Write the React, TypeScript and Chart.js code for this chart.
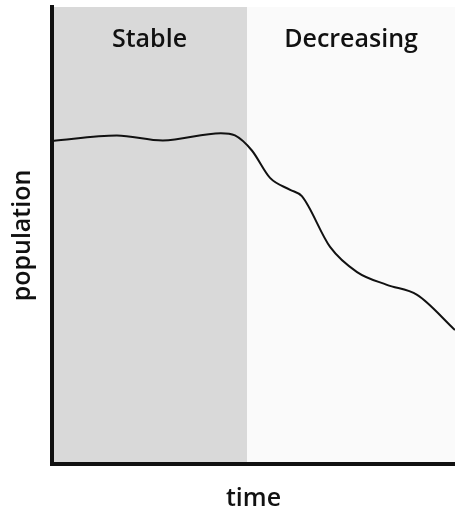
import React, { useEffect, useRef } from "react";
import { Chart, registerables } from "chart.js";

Chart.register(...registerables);

// time (0–100) and population (0–100)
const timePoints = [0, 16.1, 27.5, 41.9, 45.4, 49.6, 54.1, 59.1, 62.0, 69.0, 75.7, 83.1, 90.6, 100];
const populationValues = [70.7, 71.9, 70.8, 72.4, 71.9, 68.6, 62.6, 60.0, 58.6, 47.5, 42.0, 39.2, 37.0, 29.3];

// phases along the time axis
const phaseLabels = ["Stable", "Decreasing"];
const phaseStarts = [0, 48.4];
const phaseEnds = [48.4, 100];
const phaseColors = ["#d9d9d9", "#fafafa"];

const FONT = "'Open Sans', 'DejaVu Sans', sans-serif";

const phasePlugin = {
  id: "phases",
  beforeDraw(chart: any) {
    const { ctx, chartArea, scales } = chart;
    const x = scales.x;
    ctx.save();
    for (let i = 0; i < phaseLabels.length; i++) {
      const x0 = x.getPixelForValue(phaseStarts[i]);
      const x1 = x.getPixelForValue(phaseEnds[i]);
      ctx.fillStyle = phaseColors[i];
      ctx.fillRect(x0, chartArea.top, x1 - x0, chartArea.bottom - chartArea.top);
    }
    ctx.fillStyle = "#111";
    ctx.font = `600 25px ${FONT}`;
    ctx.textAlign = "center";
    ctx.textBaseline = "alphabetic";
    for (let i = 0; i < phaseLabels.length; i++) {
      const x0 = x.getPixelForValue(phaseStarts[i]);
      const x1 = x.getPixelForValue(phaseEnds[i]);
      ctx.fillText(phaseLabels[i], (x0 + x1) / 2, chartArea.top + 40);
    }
    ctx.restore();
  },
};

export default function App() {
  const ref = useRef<HTMLCanvasElement | null>(null);
  useEffect(() => {
    if (!ref.current) return;
    const chart = new Chart(ref.current, {
      type: "line",
      data: {
        datasets: [
          {
            data: timePoints.map((t, i) => ({ x: t, y: populationValues[i] })),
            borderColor: "#111",
            borderWidth: 2,
            pointRadius: 0,
            cubicInterpolationMode: "monotone",
            fill: false,
          },
        ],
      },
      options: {
        animation: false,
        responsive: false,
        layout: { padding: { top: 7, right: 0, left: 0, bottom: 0 } },
        plugins: { legend: { display: false }, tooltip: { enabled: false } },
        scales: {
          x: {
            type: "linear",
            min: 0,
            max: 100,
            grid: { display: false, drawTicks: false, tickLength: 0 },
            border: { display: true, color: "#111", width: 4 },
            ticks: { display: false },
            title: {
              display: true,
              text: "time",
              color: "#111",
              font: { family: FONT, size: 25, weight: "600", lineHeight: 1.2 },
              padding: { top: 20, bottom: 0 },
            },
          },
          y: {
            type: "linear",
            min: 0,
            max: 100,
            grid: { display: false, drawTicks: false, tickLength: 0 },
            border: { display: true, color: "#111", width: 4 },
            ticks: { display: false },
            title: {
              display: true,
              text: "population",
              color: "#111",
              font: { family: FONT, size: 25, weight: "600", lineHeight: 1.2 },
              padding: { top: 8, bottom: 14 },
            },
          },
        },
      },
      plugins: [phasePlugin],
    } as any);
    return () => chart.destroy();
  }, []);
  return (
    <div style={{ position: "fixed", left: 0, top: 0, width: 455, height: 514 }}>
      <canvas ref={ref} width={455} height={514} />
    </div>
  );
}
